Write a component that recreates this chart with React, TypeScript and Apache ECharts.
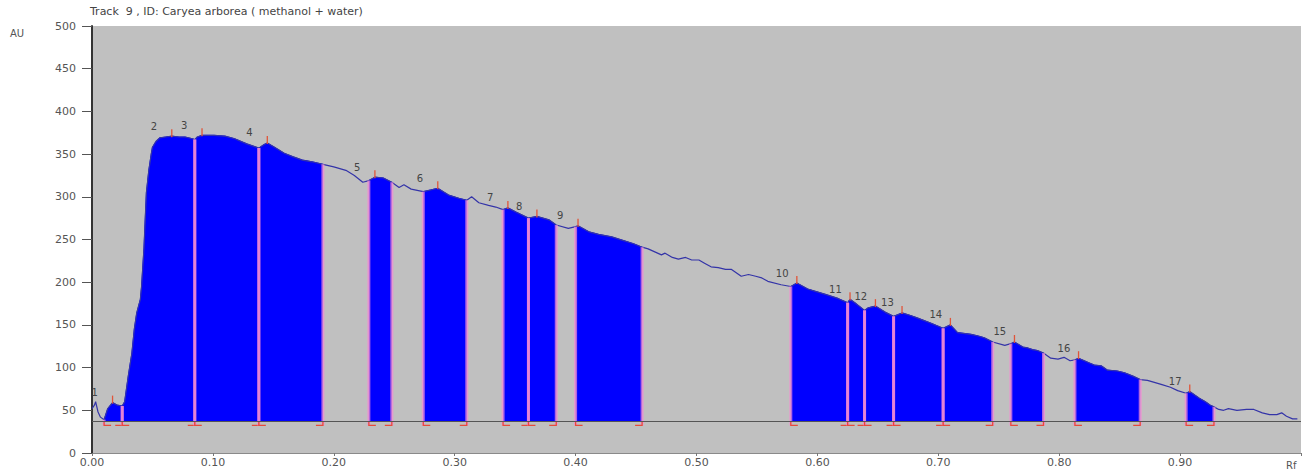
import React, { useEffect, useRef } from "react";
import * as echarts from "echarts";

const titleText = "Track  9 , ID: Caryea arborea ( methanol + water)";
const yAxisName = "AU";
const xAxisName = "Rf";

// densitogram trace [Rf, AU]
const curve: [number, number][] = [
  [0.000, 52], [0.002, 56], [0.003, 60], [0.005, 48], [0.007, 42], [0.010, 39], [0.013, 52], [0.017, 59],
  [0.021, 56], [0.025, 55], [0.027, 60], [0.030, 90], [0.033, 117], [0.035, 145], [0.037, 164], [0.040, 180],
  [0.041, 195], [0.043, 240], [0.044, 273], [0.045, 305], [0.047, 331], [0.049, 350], [0.050, 358], [0.053, 365],
  [0.056, 369], [0.061, 370], [0.066, 371], [0.072, 370], [0.077, 370], [0.083, 368], [0.085, 367], [0.087, 370],
  [0.091, 372], [0.096, 372], [0.101, 372], [0.110, 371], [0.118, 368], [0.128, 362], [0.134, 359], [0.138, 357],
  [0.142, 361], [0.145, 363], [0.151, 358], [0.159, 351], [0.166, 347], [0.174, 343], [0.182, 341], [0.191, 338],
  [0.200, 335], [0.210, 331], [0.217, 325], [0.224, 317], [0.229, 319], [0.234, 323], [0.241, 322], [0.248, 317],
  [0.254, 311], [0.258, 314], [0.264, 309], [0.274, 306], [0.280, 308], [0.286, 310], [0.295, 302], [0.304, 298],
  [0.310, 296], [0.314, 300], [0.320, 293], [0.328, 290], [0.334, 288], [0.340, 285], [0.344, 287], [0.351, 282],
  [0.361, 275], [0.368, 277], [0.378, 273], [0.384, 267], [0.394, 263], [0.400, 265], [0.402, 266], [0.411, 259],
  [0.419, 256], [0.430, 253], [0.439, 249], [0.448, 245], [0.455, 241], [0.460, 239], [0.471, 232], [0.474, 234],
  [0.480, 229], [0.485, 227], [0.491, 229], [0.496, 226], [0.502, 226], [0.507, 222], [0.512, 218], [0.518, 217],
  [0.524, 215], [0.529, 215], [0.537, 207], [0.543, 209], [0.549, 207], [0.554, 205], [0.559, 201], [0.570, 197],
  [0.578, 195], [0.583, 199], [0.592, 192], [0.599, 189], [0.606, 186], [0.617, 181], [0.625, 176], [0.627, 180],
  [0.631, 176], [0.639, 167], [0.642, 170], [0.648, 172], [0.656, 165], [0.663, 160], [0.670, 164], [0.677, 161],
  [0.683, 158], [0.694, 152], [0.704, 146], [0.710, 150], [0.716, 141], [0.727, 139], [0.733, 137], [0.738, 135],
  [0.745, 130], [0.755, 126], [0.760, 128], [0.763, 130], [0.770, 124], [0.774, 123], [0.778, 121], [0.782, 120],
  [0.787, 117], [0.793, 111], [0.799, 110], [0.804, 112], [0.809, 108], [0.813, 109], [0.816, 111], [0.824, 106],
  [0.829, 103], [0.835, 102], [0.840, 97], [0.848, 96], [0.854, 94], [0.861, 90], [0.867, 86], [0.873, 85],
  [0.878, 83], [0.885, 80], [0.892, 77], [0.898, 73], [0.905, 70], [0.908, 72], [0.913, 67], [0.916, 64],
  [0.921, 60], [0.925, 56], [0.928, 54], [0.932, 51], [0.936, 50], [0.940, 52], [0.947, 50], [0.955, 51],
  [0.961, 51], [0.968, 47], [0.974, 45], [0.980, 45], [0.984, 47], [0.988, 43], [0.993, 40], [0.997, 40],
];

const peakIds = [1, 2, 3, 4, 5, 6, 7, 8, 9, 10, 11, 12, 13, 14, 15, 16, 17];
const peakStart = [0.010, 0.025, 0.085, 0.138, 0.229, 0.274, 0.340, 0.361, 0.400, 0.578, 0.625, 0.639, 0.663, 0.704, 0.760, 0.813, 0.905];
const peakEnd = [0.025, 0.085, 0.138, 0.191, 0.248, 0.310, 0.361, 0.384, 0.455, 0.625, 0.639, 0.663, 0.704, 0.745, 0.787, 0.867, 0.928];
const peakMaxRf = [0.017, 0.066, 0.091, 0.145, 0.234, 0.286, 0.344, 0.368, 0.402, 0.583, 0.627, 0.648, 0.670, 0.710, 0.763, 0.816, 0.908];
const peakMaxAU = [59, 371, 372, 363, 323, 310, 287, 277, 266, 199, 180, 172, 164, 150, 130, 111, 72];

const baselineAU = 37;
const xMin = 0, xMax = 1, xStep = 0.1;
const yMin = 0, yMax = 500, yStep = 50;

const FONT = "DejaVu Sans";

function auAt(rf: number): number {
  const p = curve.find((c) => Math.abs(c[0] - rf) < 1e-6);
  return p ? p[1] : baselineAU;
}

export default function App() {
  const ref = useRef<HTMLDivElement>(null);
  useEffect(() => {
    if (!ref.current) return;
    const chart = echarts.init(ref.current, null, { renderer: "svg" });

    const peakFills = peakIds.map((id, i) => ({
      type: "line",
      name: "peak" + id,
      data: curve.filter((c) => c[0] >= peakStart[i] - 1e-6 && c[0] <= peakEnd[i] + 1e-6),
      symbol: "none",
      lineStyle: { width: 1, color: "#0000ff" },
      areaStyle: { color: "#0000ff", opacity: 1, origin: baselineAU },
      z: 2,
      silent: true,
    }));

    const boundaries: any[] = [];
    peakIds.forEach((id, i) => {
      boundaries.push([peakStart[i], auAt(peakStart[i]), 0]);
      boundaries.push([peakEnd[i], auAt(peakEnd[i]), 1]);
    });

    const peakMarks = peakIds.map((id, i) => [peakMaxRf[i], peakMaxAU[i], id]);

    const option: any = {
      animation: false,
      backgroundColor: "#ffffff",
      grid: {
        left: 92, right: 1, top: 26, bottom: 18,
        show: true, backgroundColor: "#c0c0c0", borderWidth: 0,
      },
      xAxis: {
        type: "value", min: xMin, max: xMax, interval: xStep,
        splitLine: { show: false },
        axisLine: { show: true, lineStyle: { color: "#8a8a8a", width: 1 } },
        axisTick: { show: true, length: 3, lineStyle: { color: "#777" } },
        axisLabel: {
          color: "#555", fontSize: 11, fontFamily: FONT, margin: 4,
          formatter: (v: number) => (v >= xMax - 1e-9 ? "" : v.toFixed(2)),
        },
      },
      yAxis: {
        type: "value", min: yMin, max: yMax, interval: yStep,
        splitLine: { show: false },
        axisLine: { show: true, lineStyle: { color: "#333", width: 2 } },
        axisTick: { show: true, length: 10, lineStyle: { color: "#555" } },
        axisLabel: { color: "#555", fontSize: 11, fontFamily: FONT, margin: 16 },
      },
      graphic: [
        { type: "text", left: 90, top: 6, style: { text: titleText, fill: "#444", fontSize: 11, fontFamily: FONT } },
        { type: "text", left: 10, top: 28, style: { text: yAxisName, fill: "#555", fontSize: 10, fontFamily: FONT } },
        { type: "text", left: 1286, top: 460, style: { text: xAxisName, fill: "#555", fontSize: 10, fontFamily: FONT } },
      ],
      series: [
        ...peakFills,
        {
          type: "line",
          name: "trace",
          data: curve,
          symbol: "none",
          lineStyle: { width: 1.2, color: "#3434a8" },
          z: 3,
          silent: true,
          markLine: {
            symbol: "none",
            silent: true,
            label: { show: false },
            lineStyle: { color: "#555", width: 1, type: "solid" },
            data: [{ yAxis: baselineAU }],
          },
        },
        {
          type: "custom",
          name: "boundaries",
          data: boundaries,
          z: 4,
          silent: true,
          clip: false,
          renderItem: (params: any, api: any) => {
            const rf = api.value(0);
            const top = api.coord([rf, api.value(1)]);
            const base = api.coord([rf, baselineAU]);
            const kind = api.value(2);
            const x = top[0];
            const by = base[1] + 4;
            const dir = kind === 0 ? 1 : -1;
            return {
              type: "group",
              children: [
                {
                  type: "line",
                  shape: { x1: x, y1: by, x2: x, y2: top[1] },
                  style: { stroke: "rgba(245,140,210,0.72)", lineWidth: 3 },
                },
                {
                  type: "polyline",
                  shape: { points: [[x, base[1]], [x, by], [x + dir * 7, by]] },
                  style: { stroke: "#e84a3a", lineWidth: 1.3, fill: null },
                },
              ],
            };
          },
        },
        {
          type: "custom",
          name: "peakMarks",
          data: peakMarks,
          z: 5,
          silent: true,
          clip: false,
          renderItem: (params: any, api: any) => {
            const p = api.coord([api.value(0), api.value(1)]);
            return {
              type: "group",
              children: [
                {
                  type: "line",
                  shape: { x1: p[0], y1: p[1] + 1, x2: p[0], y2: p[1] - 7 },
                  style: { stroke: "#e0553a", lineWidth: 1.3 },
                },
                {
                  type: "text",
                  x: p[0] - 21,
                  y: p[1] - 10,
                  style: {
                    text: String(api.value(2)),
                    fill: "#444",
                    fontSize: 10,
                    fontFamily: FONT,
                    align: "left",
                    verticalAlign: "middle",
                  },
                },
              ],
            };
          },
        },
      ],
    };

    chart.setOption(option);
    return () => chart.dispose();
  }, []);

  return (
    <div
      ref={ref}
      style={{ position: "absolute", left: 0, top: 0, width: 1304, height: 471 }}
    />
  );
}
